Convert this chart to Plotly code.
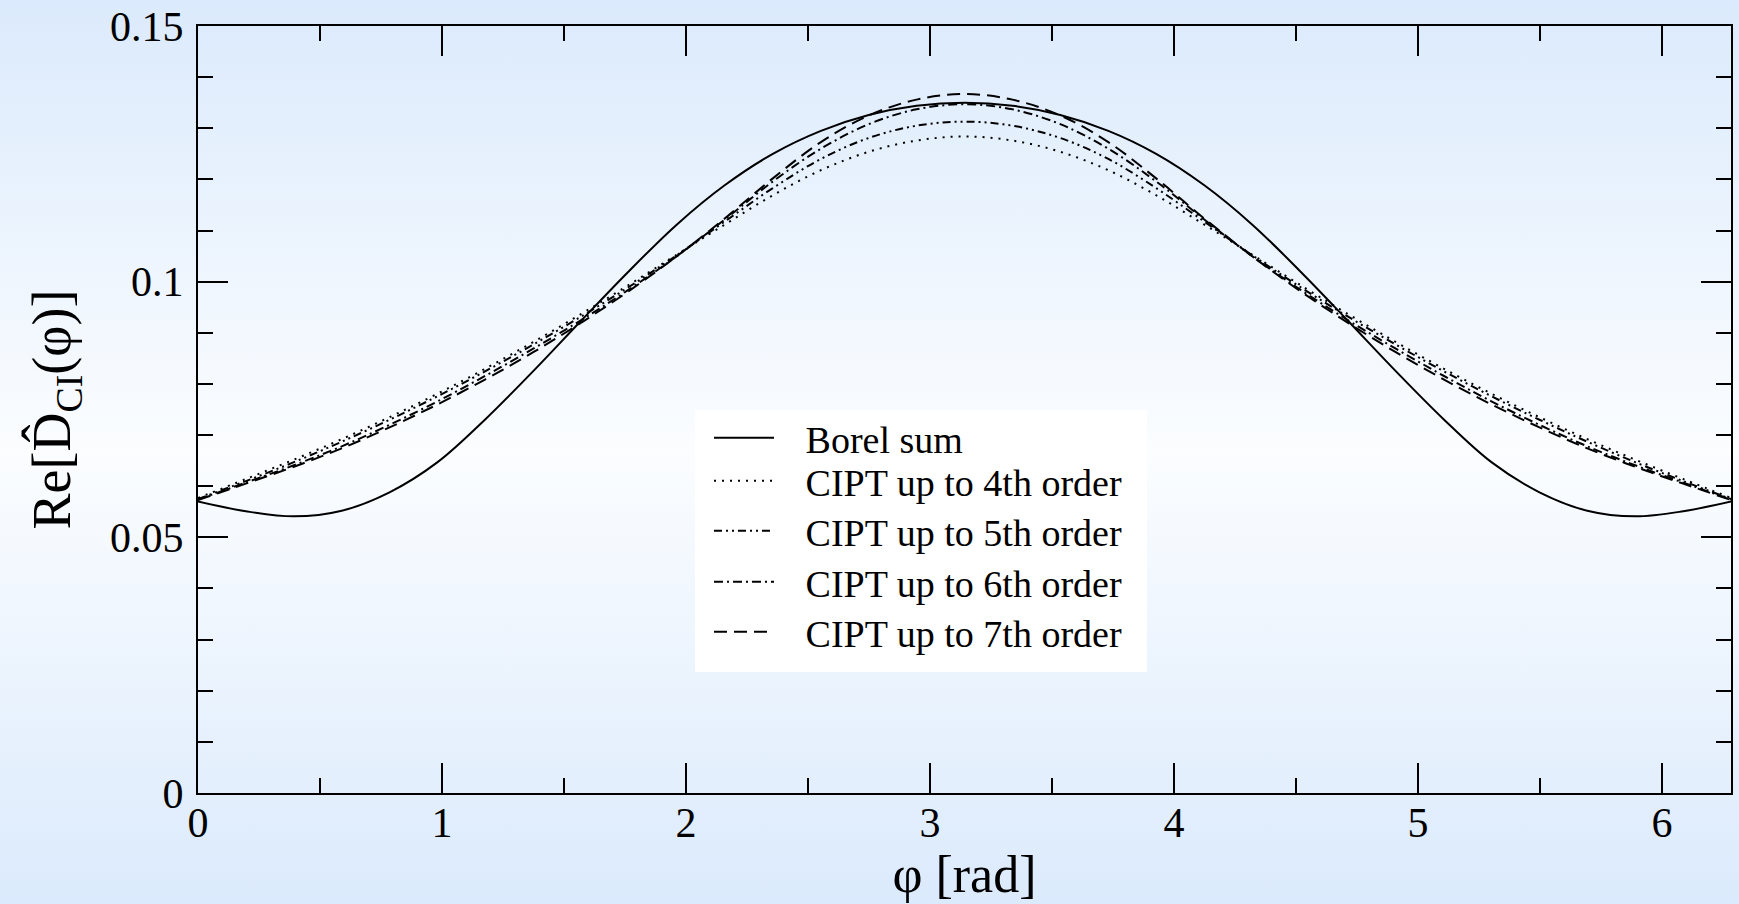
import base64
import plotly.graph_objects as go

# ---------------- data ----------------
phi = [0.000, 0.196, 0.393, 0.589, 0.785, 0.982, 1.178, 1.374, 1.571, 1.767,
       1.963, 2.160, 2.356, 2.553, 2.749, 2.945, 3.142, 3.338, 3.534, 3.731,
       3.927, 4.123, 4.320, 4.516, 4.712, 4.909, 5.105, 5.301, 5.498, 5.694,
       5.890, 6.087, 6.283]

borel = [0.0570, 0.0551, 0.0541, 0.0552, 0.0588, 0.0647, 0.0731, 0.0825, 0.0924, 0.1021,
         0.1112, 0.1189, 0.1250, 0.1295, 0.1326, 0.1344, 0.1350, 0.1344, 0.1326, 0.1295,
         0.1250, 0.1189, 0.1112, 0.1021, 0.0924, 0.0825, 0.0731, 0.0647, 0.0588, 0.0552,
         0.0541, 0.0551, 0.0570]

cipt4 = [0.0577, 0.0614, 0.0652, 0.0692, 0.0735, 0.0781, 0.0830, 0.0882, 0.0937, 0.0994,
         0.1053, 0.1112, 0.1169, 0.1218, 0.1254, 0.1276, 0.1284, 0.1276, 0.1254, 0.1218,
         0.1169, 0.1112, 0.1053, 0.0994, 0.0937, 0.0882, 0.0830, 0.0781, 0.0735, 0.0692,
         0.0652, 0.0614, 0.0577]

cipt5 = [0.0575, 0.0610, 0.0647, 0.0687, 0.0730, 0.0776, 0.0825, 0.0877, 0.0932, 0.0990,
         0.1052, 0.1118, 0.1183, 0.1240, 0.1281, 0.1305, 0.1313, 0.1305, 0.1281, 0.1240,
         0.1183, 0.1118, 0.1052, 0.0990, 0.0932, 0.0877, 0.0825, 0.0776, 0.0730, 0.0687,
         0.0647, 0.0610, 0.0575]

cipt6 = [0.0574, 0.0607, 0.0641, 0.0678, 0.0720, 0.0766, 0.0816, 0.0869, 0.0925, 0.0985,
         0.1050, 0.1122, 0.1196, 0.1260, 0.1308, 0.1337, 0.1347, 0.1337, 0.1308, 0.1260,
         0.1196, 0.1122, 0.1050, 0.0985, 0.0925, 0.0869, 0.0816, 0.0766, 0.0720, 0.0678,
         0.0641, 0.0607, 0.0574]

cipt7 = [0.0573, 0.0605, 0.0638, 0.0674, 0.0715, 0.0760, 0.0809, 0.0862, 0.0920, 0.0982,
         0.1050, 0.1124, 0.1202, 0.1273, 0.1325, 0.1356, 0.1367, 0.1356, 0.1325, 0.1273,
         0.1202, 0.1124, 0.1050, 0.0982, 0.0920, 0.0862, 0.0809, 0.0760, 0.0715, 0.0674,
         0.0638, 0.0605, 0.0573]

series_names = ["Borel sum", "CIPT up to 4th order", "CIPT up to 5th order",
                "CIPT up to 6th order", "CIPT up to 7th order"]
series_vals = [borel, cipt4, cipt5, cipt6, cipt7]
series_dash = ["solid", "2px,6px", "8px,4px,2px,4px,2px,4px", "9px,4px,2px,4px", "13px,7px"]

x_ticks = [0, 1, 2, 3, 4, 5, 6]
y_ticks = [0, 0.05, 0.1, 0.15]
y_tick_text = ["0", "0.05", "0.1", "0.15"]

# ---------------- layout geometry (pixels) ----------------
W, H = 1739, 904
ML, MR, MT, MB = 198, 8, 26, 111
pw, ph = W - ML - MR, H - MT - MB


def px_x(X):
    return (X - ML) / pw


def px_y(Y):
    return (H - MB - Y) / ph


font_family = "Liberation Serif, Times New Roman, serif"

fig = go.Figure()
legend_rows = [438, 481, 531, 582, 632]
legend_names = ["legend", "legend2", "legend3", "legend4", "legend5"]
for i, (name, vals, dash) in enumerate(zip(series_names, series_vals, series_dash)):
    fig.add_trace(go.Scatter(
        x=phi, y=vals, mode="lines", name="\u2002\u2009" + name,
        legend=legend_names[i],
        line=dict(color="black", width=2, dash=dash, shape="spline", smoothing=1.0),
    ))

legend_layout = {}
for i, ln in enumerate(legend_names):
    legend_layout[ln] = dict(
        x=px_x(709), y=px_y(legend_rows[i]), xanchor="left", yanchor="middle",
        bgcolor="rgba(0,0,0,0)", borderwidth=0, itemwidth=60,
        font=dict(family=font_family, size=38, color="black"),
    )

# white legend box
fig.add_shape(type="rect", xref="paper", yref="paper",
              x0=px_x(695), x1=px_x(1147), y0=px_y(672), y1=px_y(410),
              fillcolor="white", line=dict(width=0), layer="below")

# background gradient via svg image
svg = f'''<svg xmlns="http://www.w3.org/2000/svg" width="{W}" height="{H}" preserveAspectRatio="none">
<defs><linearGradient id="g" x1="0" y1="0" x2="0" y2="1">
<stop offset="0" stop-color="#dbeafc"/>
<stop offset="0.5" stop-color="#fbfdff"/>
<stop offset="1" stop-color="#dbeafc"/>
</linearGradient></defs>
<rect x="0" y="0" width="{W}" height="{H}" fill="url(#g)"/></svg>'''
src = "data:image/svg+xml;base64," + base64.b64encode(svg.encode()).decode()
fig.add_layout_image(dict(
    source=src, xref="paper", yref="paper",
    x=-ML / pw, y=1 + MT / ph, sizex=W / pw, sizey=H / ph,
    xanchor="left", yanchor="top", sizing="stretch", layer="below",
))

axis_common = dict(
    showline=True, linecolor="black", linewidth=2, mirror="ticks",
    ticks="inside", ticklen=30, tickwidth=2, tickcolor="black",
    showgrid=False, zeroline=False, automargin=False,
    tickfont=dict(family=font_family, size=42, color="black"),
)

fig.update_xaxes(
    range=[0, 6.283], tickvals=x_ticks, ticktext=[str(v) for v in x_ticks],
    minor=dict(ticks="inside", ticklen=15, tickwidth=2, tickcolor="black", dtick=0.5, tick0=0),
    title=dict(text="φ [rad]", font=dict(family=font_family, size=52, color="black"), standoff=0),
    ticklabelstandoff=-8,
    **axis_common,
)
fig.update_yaxes(
    range=[0, 0.15], tickvals=y_ticks, ticktext=y_tick_text,
    minor=dict(ticks="inside", ticklen=15, tickwidth=2, tickcolor="black", dtick=0.01, tick0=0),
    title=dict(text="Re[D\u0302<sub>CI</sub>(φ)]", font=dict(family=font_family, size=54, color="black"), standoff=22),
    ticklabelstandoff=4,
    **axis_common,
)

fig.update_layout(
    width=W, height=H,
    margin=dict(l=ML, r=MR, t=MT, b=MB, pad=0),
    paper_bgcolor="#e4f0fd", plot_bgcolor="rgba(0,0,0,0)",
    showlegend=True,
    **legend_layout,
)

fig.write_html("out.html", config={"displayModeBar": False},
               post_script="document.body.style.margin='0px';document.body.style.overflow='hidden';")
